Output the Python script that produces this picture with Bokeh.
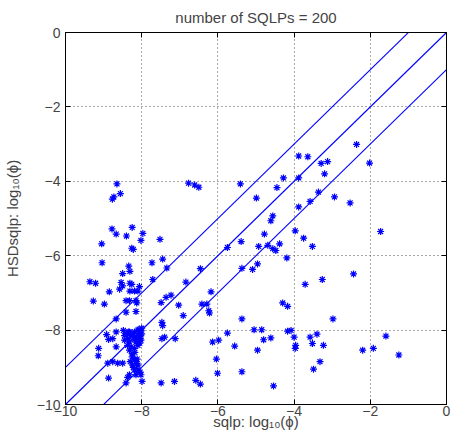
from bokeh.plotting import figure
from bokeh.models import LinearAxis, FixedTicker, Range1d, ColumnDataSource
from bokeh.embed import file_html
from bokeh.resources import INLINE

title_text = "number of SQLPs = 200"
x_label = "sqlp: log\u2081\u2080(\u03d5)"
y_label = "HSDsqlp: log\u2081\u2080(\u03d5)"
tick_values = [-10, -8, -6, -4, -2, 0]
tick_labels = ["\u221210", "\u22128", "\u22126", "\u22124", "\u22122", "0"]
line_offsets = [1, 0, -1]
line_x = [-10, 0]

sqlp = [
    -8.65, -8.73, -8.77, -8.56, -6.77, -6.61, -6.50,
    -8.78, -8.67, -8.25, -8.40, -9.05, -8.26, -8.22, -8.02, -7.97, -7.52,
    -9.04, -8.34, -8.50, -8.31, -7.73, -7.45, -7.34, -7.71,
    -9.36, -9.21, -8.54, -8.50, -8.58, -8.31, -8.26, -8.06, -8.85, -8.31, -8.19, -8.10, -6.84,
    -9.27, -8.98, -8.41, -8.32, -8.15, -8.13, -8.41, -8.15, -8.67,
    -7.49, -7.36, -7.23, -7.03, -6.91, -7.47, -7.45,
    -8.67, -8.92, -8.76, -8.87, -8.67, -9.13, -9.14,
    -8.48, -8.32, -8.19, -8.06, -8.02, -8.08, -8.04, -8.15, -8.24, -8.37,
    -8.45, -8.32, -8.37, -8.28, -8.32, -8.25, -8.15, -8.10, -8.19, -8.02,
    -8.00, -8.05, -8.10, -8.00, -8.12, -8.07, -8.20, -8.40, -8.28, -8.35,
    -8.76, -8.89, -8.63, -8.50, -8.19, -8.15, -8.10, -8.24, -8.19, -8.10, -8.04,
    -8.15, -8.32, -8.02, -8.37, -8.87, -8.41, -7.99, -7.49, -7.14, -8.25, -8.12,
    -7.47, -7.40, -7.12,
    -5.41, -4.28, -3.88, -4.45, -4.99, -3.58, -3.36, -3.88, -4.56, -4.61,
    -3.97, -4.78, -3.75, -3.52, -5.39, -5.75, -4.93, -4.69, -4.56, -4.48,
    -4.38, -4.19, -6.46, -5.37, -5.09, -4.96, -6.18, -3.71,
    -6.42, -6.29, -6.24, -6.22, -5.37, -4.30, -4.17, -5.75, -5.05, -4.85,
    -6.14, -5.98, -5.56, -4.96, -4.80, -4.61, -4.17, -4.08, -4.00, -3.96,
    -3.97, -3.58, -3.52, -6.04, -6.01, -5.37, -6.58, -6.46, -4.54, -3.49, -3.32,
    -3.88, -3.64, -2.36, -3.29, -3.12, -3.20, -2.02, -2.94, -2.53, -1.73, -2.44, -3.26,
    -2.98, -3.40, -3.23, -2.20, -1.92, -1.59, -1.25,
    -8.18, -8.05, -8.30, -8.45, -8.13, -8.22,
]
hsdsqlp = [
    -4.07, -4.42, -4.48, -4.33, -4.05, -4.10, -4.16,
    -5.28, -5.42, -5.24, -5.47, -5.68, -5.80, -5.83, -5.59, -5.40, -5.56,
    -6.19, -6.28, -6.48, -6.42, -6.19, -6.09, -6.33, -6.64,
    -6.70, -6.74, -6.72, -6.81, -6.90, -6.74, -6.77, -6.83, -6.97, -6.95, -6.95, -6.95, -6.71,
    -7.22, -7.30, -7.21, -7.21, -7.21, -7.27, -7.52, -7.50, -7.70,
    -7.26, -7.12, -7.06, -7.33, -7.61, -7.79, -7.88,
    -8.05, -8.12, -8.23, -8.25, -8.45, -8.49, -8.69,
    -8.01, -8.05, -8.05, -8.05, -8.01, -8.14, -8.23, -8.19, -8.14, -8.23,
    -8.27, -8.32, -8.41, -8.45, -8.54, -8.63, -8.32, -8.41, -8.49, -8.27,
    -8.10, -8.18, -8.00, -7.95, -8.30, -7.98, -8.25, -8.10, -8.15, -8.05,
    -8.85, -8.89, -8.89, -8.89, -8.80, -8.85, -8.94, -8.94, -9.07, -9.07, -9.13,
    -9.20, -9.20, -9.20, -9.27, -9.29, -9.42, -9.38, -9.42, -9.38, -8.72, -8.78,
    -8.23, -8.19, -8.23,
    -4.07, -3.91, -3.91, -4.17, -4.45, -4.54, -4.29, -4.69, -4.93, -5.06,
    -5.33, -5.42, -5.53, -5.75, -5.62, -5.78, -5.75, -5.72, -5.81, -5.86,
    -5.68, -6.06, -6.35, -6.34, -6.37, -6.22, -6.97, -6.77,
    -7.30, -7.30, -7.48, -7.54, -7.70, -7.27, -7.36, -8.08, -7.99, -7.99,
    -8.32, -8.27, -8.43, -8.54, -8.26, -8.21, -8.03, -8.01, -8.19, -8.41,
    -8.49, -8.19, -8.36, -8.78, -9.16, -9.12, -9.35, -9.45, -9.50, -9.05, -8.85,
    -3.32, -3.34, -3.01, -3.52, -3.47, -3.80, -3.51, -4.42, -4.58, -5.35, -6.49, -6.64,
    -7.70, -8.11, -8.41, -8.54, -8.49, -8.16, -8.67,
    -8.60, -8.35, -8.85, -8.15, -8.90, -9.00,
]

FONT = "Liberation Sans"
BLUE = "#0000ff"

p = figure(frame_width=381, frame_height=372, output_backend="svg", toolbar_location=None,
           x_range=Range1d(-10, 0), y_range=Range1d(-10, 0),
           min_border_left=0, min_border_right=6, min_border_top=0, min_border_bottom=0,
           x_axis_label=x_label, y_axis_label=y_label, title=title_text)
p.background_fill_color = "white"
p.outline_line_color = "black"
p.outline_line_width = 1

p.title.align = "center"
p.title.text_font = FONT
p.title.text_font_size = "15px"
p.title.text_font_style = "normal"
p.title.standoff = 13

ticker = FixedTicker(ticks=tick_values)
overrides = {v: s for v, s in zip(tick_values, tick_labels)}
for ax in (p.xaxis[0], p.yaxis[0]):
    ax.ticker = ticker
    ax.major_label_overrides = overrides
    ax.major_label_text_font = FONT
    ax.major_label_text_font_size = "14px"
    ax.axis_label_text_font = FONT
    ax.axis_label_text_font_size = "15px"
    ax.axis_label_text_font_style = "normal"
    ax.major_tick_in = 5
    ax.major_tick_out = 0
    ax.minor_tick_line_color = None
    ax.axis_line_color = "black"
p.xaxis[0].major_label_standoff = 1
p.xaxis[0].axis_label_standoff = -6
p.yaxis[0].major_label_standoff = 5
p.yaxis[0].axis_label_standoff = 13

empty = {v: "" for v in tick_values}
for loc in ("right", "above"):
    ax = LinearAxis(ticker=ticker, major_label_overrides=empty,
                    major_label_standoff=0, major_tick_in=5, major_tick_out=0,
                    minor_tick_line_color=None, axis_line_color="black")
    p.add_layout(ax, loc)

p.xgrid.ticker = ticker
p.ygrid.ticker = ticker
p.grid.grid_line_color = "#555555"
p.grid.grid_line_dash = "1 3"
p.grid.grid_line_width = 1

for off in line_offsets:
    ys = [xv + off for xv in line_x]
    p.line(x=line_x, y=ys, line_color=BLUE, line_width=1.1)

src = ColumnDataSource(dict(x=sqlp, y=hsdsqlp))
p.scatter("x", "y", source=src, marker="asterisk", size=7, line_color=BLUE, line_width=1.2)

open("out.html", "w").write(file_html(p, INLINE))
